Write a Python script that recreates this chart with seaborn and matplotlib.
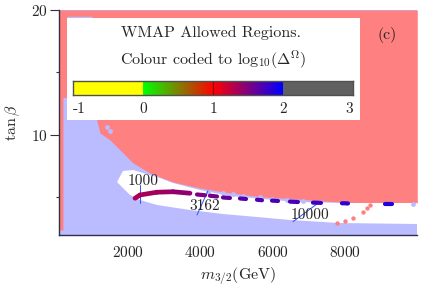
import numpy as np
import matplotlib
matplotlib.use("Agg")
import matplotlib.pyplot as plt
from matplotlib.colors import LinearSegmentedColormap, Normalize
from matplotlib.patches import Rectangle
import seaborn as sns

# region boundaries (m_3/2 in GeV, tan beta)
red_x = [100, 200, 200, 313, 313, 1005, 1005, 1135, 1226, 1502, 1862, 2138, 2608,
         3244, 3991, 4820, 5733, 6673, 7392, 8332, 10000]
red_lo = [2.4, 2.4, 13.0, 13.0, 19.5, 19.5, 11.6, 11.2, 10.16, 9.6, 8.56, 7.76, 6.96,
          6.24, 5.76, 5.36, 5.04, 4.88, 4.72, 4.56, 4.56]

white_top_x = [1696, 1862, 2138, 2415, 2802, 3244, 3991, 4820, 5733, 6673, 7945, 10000]
white_top_y = [6.24, 7.12, 7.2, 6.96, 6.64, 6.16, 5.6, 5.12, 4.88, 4.64, 4.56, 4.56]
white_bot_x = [10000, 7779, 7392, 6479, 5567, 4627, 3714, 2802, 2332, 2055]
white_bot_y = [2.88, 2.96, 3.04, 3.2, 3.44, 3.68, 4.0, 4.4, 4.8, 5.2]

# WMAP allowed line, coloured by log10(Delta^Omega)
solid_x = [2194, 2332, 2794, 3244, 3714]
solid_y = [4.94, 5.2, 5.42, 5.46, 5.34]
solid_v = [1.33, 1.35, 1.38, 1.42]
dash_x0 = [3908, 4267, 4627, 5097, 5567, 5982, 6479, 7115, 7917, 9106]
dash_x1 = [4129, 4461, 4820, 5263, 5705, 6148, 6700, 7337, 8083, 9300]
dash_y0 = [5.24, 5.14, 5.0, 4.92, 4.82, 4.75, 4.67, 4.59, 4.54, 4.46]
dash_y1 = [5.18, 5.08, 4.96, 4.88, 4.78, 4.72, 4.64, 4.57, 4.53, 4.46]
dash_v = [1.5, 1.55, 1.6, 1.65, 1.68, 1.7, 1.72, 1.76, 1.82, 1.88]

# scattered scan points on the edges
bdot_x = [4212, 4627, 4903, 5180, 5650, 5982, 6396, 6839, 7309, 8055, 9880, 1420, 1502]
bdot_y = [5.46, 5.36, 5.28, 5.12, 5.04, 4.88, 4.8, 4.74, 4.66, 4.58, 4.48, 10.6, 10.3]
rdot_x = [7779, 8000, 8221, 8498, 8608, 8691, 1273, 1364, 1420, 1558]
rdot_y = [2.96, 3.12, 3.36, 3.84, 4.16, 4.4, 10.8, 10.4, 10.16, 9.92]

# fine tuning contours
cont_x = [[2332, 2332], [3908, 4212], [6562, 7309]]
cont_y = [[6.0, 4.56], [3.6, 5.54], [3.06, 4.66]]
cont_lab = ["1000", "3162", "10000"]
lab_x = [2415, 4129, 7032]
lab_y = [6.34, 4.32, 3.6]

cbar_ticks = [-1, 0, 1, 2, 3]

RED = "#ff8080"
BLUE = "#bbbbff"

sns.set_style("white")
plt.rcParams["font.family"] = ["cmr10", "DejaVu Serif"]
plt.rcParams["mathtext.fontset"] = "cm"
plt.rcParams["axes.unicode_minus"] = False
plt.rcParams["axes.formatter.use_mathtext"] = True

cmap = LinearSegmentedColormap.from_list("wmap", [
    (0.0, "#ffff00"), (0.25, "#ffff00"), (0.25, "#00ff00"), (0.5, "#ff0000"),
    (0.75, "#0000ff"), (0.75, "#606060"), (1.0, "#606060")], N=512)
norm = Normalize(-1, 3)

fig = plt.figure(figsize=(4.22, 2.89), dpi=100)
ax = fig.add_axes([0.1405, 0.1869, 0.8483, 0.7785])

ax.fill_between([100, 10000], 2, 20, color=BLUE, lw=0, zorder=1)
ax.fill_between(red_x, red_lo, 20, color=RED, lw=0, zorder=2)
ax.fill(white_top_x + white_bot_x, white_top_y + white_bot_y, color="white", lw=0, zorder=3)

sns.scatterplot(x=rdot_x, y=rdot_y, color=RED, s=10, linewidth=0, ax=ax, zorder=4)
sns.scatterplot(x=bdot_x, y=bdot_y, color=BLUE, s=12, linewidth=0, ax=ax, zorder=4)

for cx, cy in zip(cont_x, cont_y):
    ax.plot(cx, cy, color="#3050ff", lw=0.7, zorder=5)

for i in range(len(solid_v)):
    ax.plot(solid_x[i:i + 2], solid_y[i:i + 2], color=cmap(norm(solid_v[i])),
            lw=3.4, solid_capstyle="round", zorder=6)
for x0, x1, y0, y1, v in zip(dash_x0, dash_x1, dash_y0, dash_y1, dash_v):
    ax.plot([x0, x1], [y0, y1], color=cmap(norm(v)), lw=3, solid_capstyle="round", zorder=6)

for t, lx, ly in zip(cont_lab, lab_x, lab_y):
    ax.text(lx, ly, t, fontsize=11, ha="center", va="center", zorder=7)

ax.set_xlim(100, 10000)
ax.set_ylim(2, 20)
ax.set_xticks([2000, 4000, 6000, 8000])
ax.set_xticks([1000, 3000, 5000, 7000, 9000], minor=True)
ax.set_yticks([10, 20])
ax.set_yticks([5, 15], minor=True)
ax.tick_params(axis="x", which="major", direction="in", length=6, width=0.8, pad=7,
               labelsize=11, color="#303040", bottom=True)
ax.tick_params(axis="x", which="minor", direction="in", length=3.5, width=0.8,
               color="#303040", bottom=True)
ax.tick_params(axis="y", which="major", direction="out", length=6.5, width=0.8, pad=2,
               labelsize=11, color="#303040", left=True)
ax.tick_params(axis="y", which="minor", direction="out", length=2.5, width=0.8,
               color="#303040", left=True)
for s in ["top", "right"]:
    ax.spines[s].set_visible(False)
for s in ["left", "bottom"]:
    ax.spines[s].set_color("#303040")
    ax.spines[s].set_linewidth(1.0)
    ax.spines[s].set_zorder(8)
ax.set_xlabel(r"$m_{3/2}$(GeV)", fontsize=11.5, labelpad=4)
ax.set_ylabel(r"$\tan\beta$", fontsize=11.5, labelpad=6)

# legend box
box = Rectangle((0.1588, 0.5848), 0.694, 0.353, transform=fig.transFigure,
                facecolor="white", edgecolor="none", zorder=1)
fig.add_artist(box)
fig.text(0.5, 1 - 33 / 289, "WMAP Allowed Regions.", fontsize=11.5, ha="center", va="center")
fig.text(0.505, 1 - 60 / 289, r"Colour coded to $\mathrm{log}_{10}(\Delta^{\Omega})$",
         fontsize=11.5, ha="center", va="center")
fig.text(387 / 422, 1 - 35 / 289, "(c)", fontsize=11.5, ha="center", va="center")

cax = fig.add_axes([0.1737, 0.6713, 0.6635, 0.0484])
cax.set_zorder(2)
ramp = np.linspace(-1, 3, 400).reshape(1, -1)
sns.heatmap(ramp, cmap=cmap, vmin=-1, vmax=3, cbar=False, xticklabels=False,
            yticklabels=False, ax=cax)
cax.axvline(200, color="#800000", lw=0.8)
for s in cax.spines.values():
    s.set_visible(True)
    s.set_color("#505050")
    s.set_linewidth(1.0)
cax.set_xticks([(t + 1) * 100 for t in cbar_ticks])
cax.set_xticklabels([str(t) for t in cbar_ticks], fontsize=11)
cax.tick_params(axis="x", length=0, pad=5, bottom=True, labelbottom=True)
tl = cax.get_xticklabels()
tl[0].set_ha("left")
tl[-1].set_ha("right")

fig.savefig("out.png", dpi=100)
